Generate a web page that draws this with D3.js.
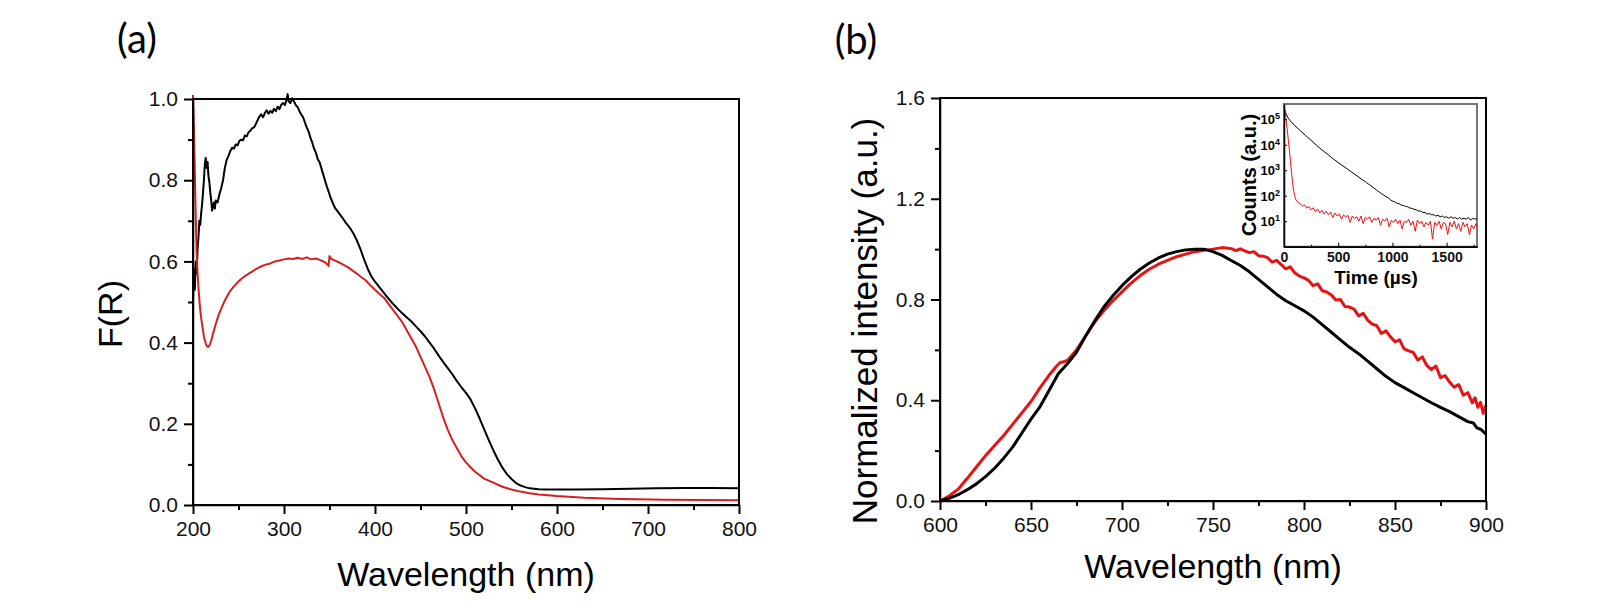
<!DOCTYPE html>
<html>
<head>
<meta charset="utf-8">
<script src="https://cdn.jsdelivr.net/npm/d3@7/dist/d3.min.js"></script>
<style>
  body { margin: 0; background: #fff; }
  text { font-family: "Liberation Sans", Arial, sans-serif; }
</style>
</head>
<body>
<div id="chart"></div>
<script>
// ---- panel (a): F(R) vs wavelength ----
var aBlackWl = [200,201,202,203,204,205,206,207,208,209,210,211,212,213,214,215,216,217,218,219,220,221,222,223,224,225,227,229,231,233,235,237,239,241,243,245,247,249,251,253,255,257,259,261,263,265,267,269,271,273,275,277,279,281,283,285,287,289,291,293,295,297,299,301,303,304,305,307,309,311,313,315,317,319,321,323,325,327,329,331,333,335,337,339,341,343,345,347,349,351,353,356,360,364,368,372,376,380,384,388,392,396,400,405,410,415,420,425,430,435,440,445,450,455,460,465,470,475,480,485,490,495,500,505,510,515,520,525,530,535,540,545,550,555,560,565,570,580,590,600,620,650,680,710,740,770,800];
var aBlackFR = [.50,.58,.53,.60,.57,.63,.66,.70,.69,.72,.74,.77,.80,.84,.855,.83,.845,.81,.795,.77,.75,.725,.735,.745,.73,.75,.745,.765,.78,.80,.83,.85,.86,.872,.88,.878,.888,.886,.897,.90,.898,.91,.908,.918,.922,.928,.93,.938,.948,.957,.962,.955,.966,.972,.964,.971,.966,.976,.97,.981,.975,.986,.99,.985,1.0,1.012,.995,.99,1.002,.994,.985,.98,.97,.962,.955,.942,.93,.92,.905,.893,.878,.868,.852,.845,.83,.815,.80,.785,.772,.758,.747,.732,.72,.708,.695,.684,.67,.652,.63,.605,.582,.563,.55,.536,.522,.508,.495,.483,.472,.462,.452,.44,.428,.415,.40,.385,.368,.352,.337,.322,.305,.29,.276,.26,.238,.213,.186,.16,.135,.112,.092,.076,.064,.054,.048,.044,.041,.039,.038,.038,.038,.039,.04,.041,.042,.042,.041];

var aRedWl = [200,201,202,203,204,205,206,207,208,209,210,211,212,213,214,215,216,217,218,219,220,222,224,226,228,230,233,236,240,244,248,252,256,260,265,270,275,280,285,290,295,300,305,310,315,320,325,330,335,340,345,348,349,350,352,355,360,365,370,375,380,385,390,395,400,405,410,415,420,425,430,435,440,445,450,455,460,465,470,475,480,485,490,495,500,505,510,520,530,540,550,560,570,580,600,630,670,720,800];
var aRedFR = [1.01,.93,.82,.71,.62,.57,.535,.505,.48,.46,.445,.43,.415,.405,.398,.392,.39,.39,.393,.398,.405,.422,.438,.453,.467,.478,.494,.508,.524,.536,.546,.555,.562,.568,.575,.582,.588,.592,.595,.60,.602,.605,.607,.606,.609,.606,.61,.605,.607,.603,.598,.592,.589,.613,.606,.603,.598,.592,.586,.578,.57,.561,.553,.541,.53,.52,.51,.495,.48,.465,.45,.43,.41,.39,.365,.34,.315,.285,.25,.215,.185,.16,.14,.12,.105,.093,.082,.065,.055,.045,.038,.033,.029,.026,.022,.018,.015,.013,.012];

// ---- panel (b): normalized emission ----
var bBlackWl = [600,605,610,615,620,625,630,635,640,645,650,655,660,665,670,675,680,685,690,695,700,705,710,715,720,725,730,735,740,745,750,755,760,765,770,775,780,785,790,795,800,805,810,815,820,825,830,835,840,845,850,855,860,865,870,875,880,885,890,893,895,897,900];
var bBlackInt = [0,.01,.025,.045,.068,.097,.13,.17,.215,.27,.325,.375,.44,.505,.545,.59,.655,.715,.77,.815,.855,.89,.92,.945,.965,.98,.99,.997,1.0,1.0,.99,.975,.955,.935,.91,.88,.85,.82,.795,.775,.755,.73,.70,.67,.64,.61,.585,.555,.525,.495,.47,.45,.43,.41,.39,.372,.355,.335,.315,.31,.29,.285,.266];

var bRedWl = [600,605,610,615,620,625,630,635,640,645,650,655,660,664,666,668,670,675,680,685,690,695,700,705,710,715,720,725,730,735,740,745,750,755,760,762.5,765,767.5,770,772.5,775,777.5,780,782.5,785,787.5,790,792.5,795,797.5,800,802.5,805,807.5,810,812.5,815,817.5,820,822.5,825,827.5,830,832.5,835,837.5,840,842.5,845,847.5,850,852.5,855,857.5,860,862.5,865,867.5,870,872.5,875,877.5,880,882.5,885,887.5,890,892.5,894,895.5,897,898.5,900];
var bRedInt = [0,.02,.047,.09,.135,.18,.22,.26,.305,.35,.395,.45,.50,.535,.55,.553,.558,.60,.655,.71,.755,.795,.83,.865,.895,.92,.94,.955,.97,.98,.99,.995,1.0,1.006,1.002,.994,1.001,.993,.986,.99,.974,.972,.966,.948,.955,.938,.922,.93,.905,.893,.886,.876,.855,.862,.835,.83,.818,.798,.80,.772,.77,.762,.735,.745,.718,.702,.696,.665,.676,.652,.632,.64,.604,.596,.59,.56,.572,.538,.522,.536,.49,.498,.472,.452,.462,.42,.43,.39,.41,.372,.392,.348,.38];

// ---- inset: decay curves ----
var insBlackT = [0,10,20,40,60,100,150,200,250,300,350,400,450,500,600,700,720,740,760,780,800,820,840,860,880,900,920,940,960,980,1000,1020,1040,1060,1080,1100,1120,1140,1160,1180,1200,1220,1240,1260,1280,1300,1320,1340,1360,1380,1400,1420,1440,1460,1480,1500,1520,1540,1560,1580,1600,1620,1640,1660,1680,1700,1720,1740,1760,1780];
var insBlackCounts = [3.0e5,2.2e5,1.6e5,1.1e5,8.5e4,5.6e4,3.6e4,2.3e4,1.5e4,9.5e3,6.3e3,4.3e3,2.9e3,2.0e3,1.0e3,500,430,385,330,285,250,215,185,160,138,120,106,92,84,70,62,58,51,49,43,42,38,37,33,32,29,28,25,25,22,22,19,20,18,18,16,17,15,16,14,15,13,15,13,14,12,14,12,13,12,14,11,13,12,13];

var insRedT = [0,10,20,30,40,50,60,70,80,90,100,110,130,150,170,190,210,230,250,270,290,310,330,350,370,390,410,430,450,470,490,510,530,550,570,590,610,630,650,670,690,710,730,750,770,790,810,830,850,870,890,910,930,950,970,990,1010,1030,1050,1070,1090,1110,1130,1150,1170,1190,1210,1230,1250,1270,1290,1310,1330,1350,1370,1390,1410,1430,1450,1470,1490,1510,1530,1550,1570,1590,1610,1630,1650,1670,1690,1710,1730,1750,1770,1780];
var insRedCounts = [3.0e5,2.0e5,9e4,4e4,1.5e4,6e3,2.2e3,800,300,150,95,70,55,48,40,44,33,38,28,34,24,30,21,27,19,25,18,23,14,21,16,19,12,18,14,17,9,16,13,15,10,16,8,14,12,15,9,13,11,14,7,12,10,13,6,11,9,12,8,11,5,10,9,12,7,10,4,11,8,10,6,9,7,10,2,9,7,10,5,9,8,3,9,6,10,5,8,4,9,6,8,3,7,5,8,6];

// tick values
var aXTicks = [200,300,400,500,600,700,800];
var aXMinor = [250,350,450,550,650,750];
var aYTicks = [0,0.2,0.4,0.6,0.8,1.0];
var aYMinor = [0.1,0.3,0.5,0.7,0.9];
var bXTicks = [600,650,700,750,800,850,900];
var bXMinor = [625,675,725,775,825,875];
var bYTicks = [0,0.4,0.8,1.2,1.6];
var bYMinor = [0.2,0.6,1.0,1.4];
var insXTicks = [0,500,1000,1500];
var insXMinor = [250,750,1250,1750];
var insYTicks = [10,100,1000,10000,100000];

var W = 1600, H = 612;
var svg = d3.select('#chart').append('svg')
    .attr('width', W)
    .attr('height', H);
svg.append('rect').attr('width', W).attr('height', H).attr('fill', '#fff');

function Panel(x, y){
    this.x = x;
    this.y = y;
}

Panel.prototype.axes = function(xt, xm, yt, ym, yfmt){
    var x = this.x, y = this.y;
    var x0 = x.range()[0], x1 = x.range()[1];
    var y0 = y.range()[0], y1 = y.range()[1];

    // minor ticks first
    svg.append('g').attr('transform', 'translate(0,' + y0 + ')')
        .call(d3.axisBottom(x).tickValues(xm).tickSize(5).tickFormat('').tickSizeOuter(0));
    svg.append('g').attr('transform', 'translate(' + x0 + ',0)')
        .call(d3.axisLeft(y).tickValues(ym).tickSize(5).tickFormat('').tickSizeOuter(0));

    var gx = svg.append('g').attr('transform', 'translate(0,' + y0 + ')')
        .call(d3.axisBottom(x).tickValues(xt).tickSize(9).tickPadding(7).tickSizeOuter(0));
    var gy = svg.append('g').attr('transform', 'translate(' + x0 + ',0)')
        .call(d3.axisLeft(y).tickValues(yt).tickSize(9).tickPadding(6).tickSizeOuter(0).tickFormat(yfmt));

    svg.selectAll('.tick line').attr('stroke', '#000').attr('stroke-width', 2);
    [gx, gy].forEach(function(g){
        g.selectAll('text').attr('font-size', 21).attr('fill', '#111')
            .style('font-family', '"Liberation Sans", Arial, sans-serif');
        g.select('.domain').remove();
    });

    // box round the plot
    svg.append('rect')
        .attr('x', x0).attr('y', y1)
        .attr('width', x1 - x0).attr('height', y0 - y1)
        .attr('fill', 'none').attr('stroke', '#000').attr('stroke-width', 2);
};

Panel.prototype.curve = function(xs, ys, color, width){
    var x = this.x, y = this.y;
    var line = d3.line().x(function(d){ return x(d[0]); }).y(function(d){ return y(d[1]); });
    svg.append('path')
        .datum(d3.zip(xs, ys))
        .attr('d', line)
        .attr('fill', 'none')
        .attr('stroke', color)
        .attr('stroke-width', width)
        .attr('stroke-linejoin', 'round');
};

// MAIN()
var pa = new Panel(
    d3.scaleLinear().domain([200, 800]).range([193, 739]),
    d3.scaleLinear().domain([0, 1]).range([505, 99])
);
pa.curve(aBlackWl, aBlackFR, '#000', 2);
pa.curve(aRedWl, aRedFR, '#d62020', 2);
pa.axes(aXTicks, aXMinor, aYTicks, aYMinor, d3.format('.1f'));

var pb = new Panel(
    d3.scaleLinear().domain([600, 900]).range([940, 1486]),
    d3.scaleLinear().domain([0, 1.6]).range([501, 98])
);
pb.curve(bRedWl, bRedInt, '#e81212', 3);
pb.curve(bBlackWl, bBlackInt, '#000', 3);
pb.axes(bXTicks, bXMinor, bYTicks, bYMinor, d3.format('.1f'));

// titles
svg.append('text').attr('x', 137).attr('y', 53).attr('text-anchor', 'middle')
    .style('font-family', 'Lato, "Open Sans", sans-serif').attr('font-size', 40).text('(a)');
svg.append('text').attr('x', 856).attr('y', 54).attr('text-anchor', 'middle')
    .style('font-family', 'Lato, "Open Sans", sans-serif').attr('font-size', 40).text('(b)');

svg.append('text').attr('x', 466).attr('y', 586).attr('text-anchor', 'middle')
    .attr('font-size', 34).text('Wavelength (nm)');
svg.append('text').attr('x', 1213).attr('y', 578).attr('text-anchor', 'middle')
    .attr('font-size', 34).text('Wavelength (nm)');
svg.append('text').attr('transform', 'translate(122,314) rotate(-90)').attr('text-anchor', 'middle')
    .attr('font-size', 34).text('F(R)');
svg.append('text').attr('transform', 'translate(877,321) rotate(-90)').attr('text-anchor', 'middle')
    .attr('font-size', 35).text('Normalized intensity (a.u.)');

// ---- inset ----
var xi = d3.scaleLinear().domain([0, 1780]).range([1284, 1477]);
var yi = d3.scaleLog().domain([1, Math.pow(10, 5.6)]).range([246.7, 104]);

svg.append('rect')
    .attr('x', 1284).attr('y', 104).attr('width', 1477 - 1284).attr('height', 246.7 - 104)
    .attr('fill', '#fff').attr('stroke', '#777').attr('stroke-width', 2);

var insLine = d3.line().x(function(d){ return xi(d[0]); }).y(function(d){ return yi(d[1]); });
svg.append('path').datum(d3.zip(insBlackT, insBlackCounts))
    .attr('d', insLine).attr('fill', 'none').attr('stroke', '#000').attr('stroke-width', 1);
svg.append('path').datum(d3.zip(insRedT, insRedCounts))
    .attr('d', insLine).attr('fill', 'none').attr('stroke', '#ee1111').attr('stroke-width', 1);

var gix = svg.append('g').attr('transform', 'translate(0,246.7)')
    .call(d3.axisBottom(xi).tickValues(insXTicks).tickFormat(d3.format('d'))
        .tickSizeInner(-4).tickSizeOuter(0).tickPadding(5));
svg.append('g').attr('transform', 'translate(0,246.7)')
    .call(d3.axisBottom(xi).tickValues(insXMinor).tickSizeInner(-2).tickSizeOuter(0).tickFormat(''));
svg.append('g').attr('transform', 'translate(1284,0)')
    .call(d3.axisLeft(yi).tickValues(insYTicks).tickSizeInner(-3).tickSizeOuter(0).tickFormat(''));
svg.selectAll('.domain').attr('stroke', '#000').attr('stroke-width', 1.5);
gix.selectAll('text').attr('font-size', 14).attr('font-weight', 'bold').attr('fill', '#111');

// 10^n labels
insYTicks.forEach(function(v){
    var t = svg.append('text')
        .attr('x', 1280).attr('y', yi(v) + 5)
        .attr('text-anchor', 'end')
        .attr('font-size', 13).attr('font-weight', 'bold');
    t.append('tspan').text('10');
    t.append('tspan').attr('dy', -5).attr('font-size', 9).text(Math.round(Math.log10(v)));
});

svg.append('text').attr('x', 1376).attr('y', 284).attr('text-anchor', 'middle')
    .attr('font-size', 19).attr('font-weight', 'bold').text('Time (\u00b5s)');
svg.append('text').attr('transform', 'translate(1256,175) rotate(-90)').attr('text-anchor', 'middle')
    .attr('font-size', 20).attr('font-weight', 'bold').text('Counts (a.u.)');
</script>
</body>
</html>
